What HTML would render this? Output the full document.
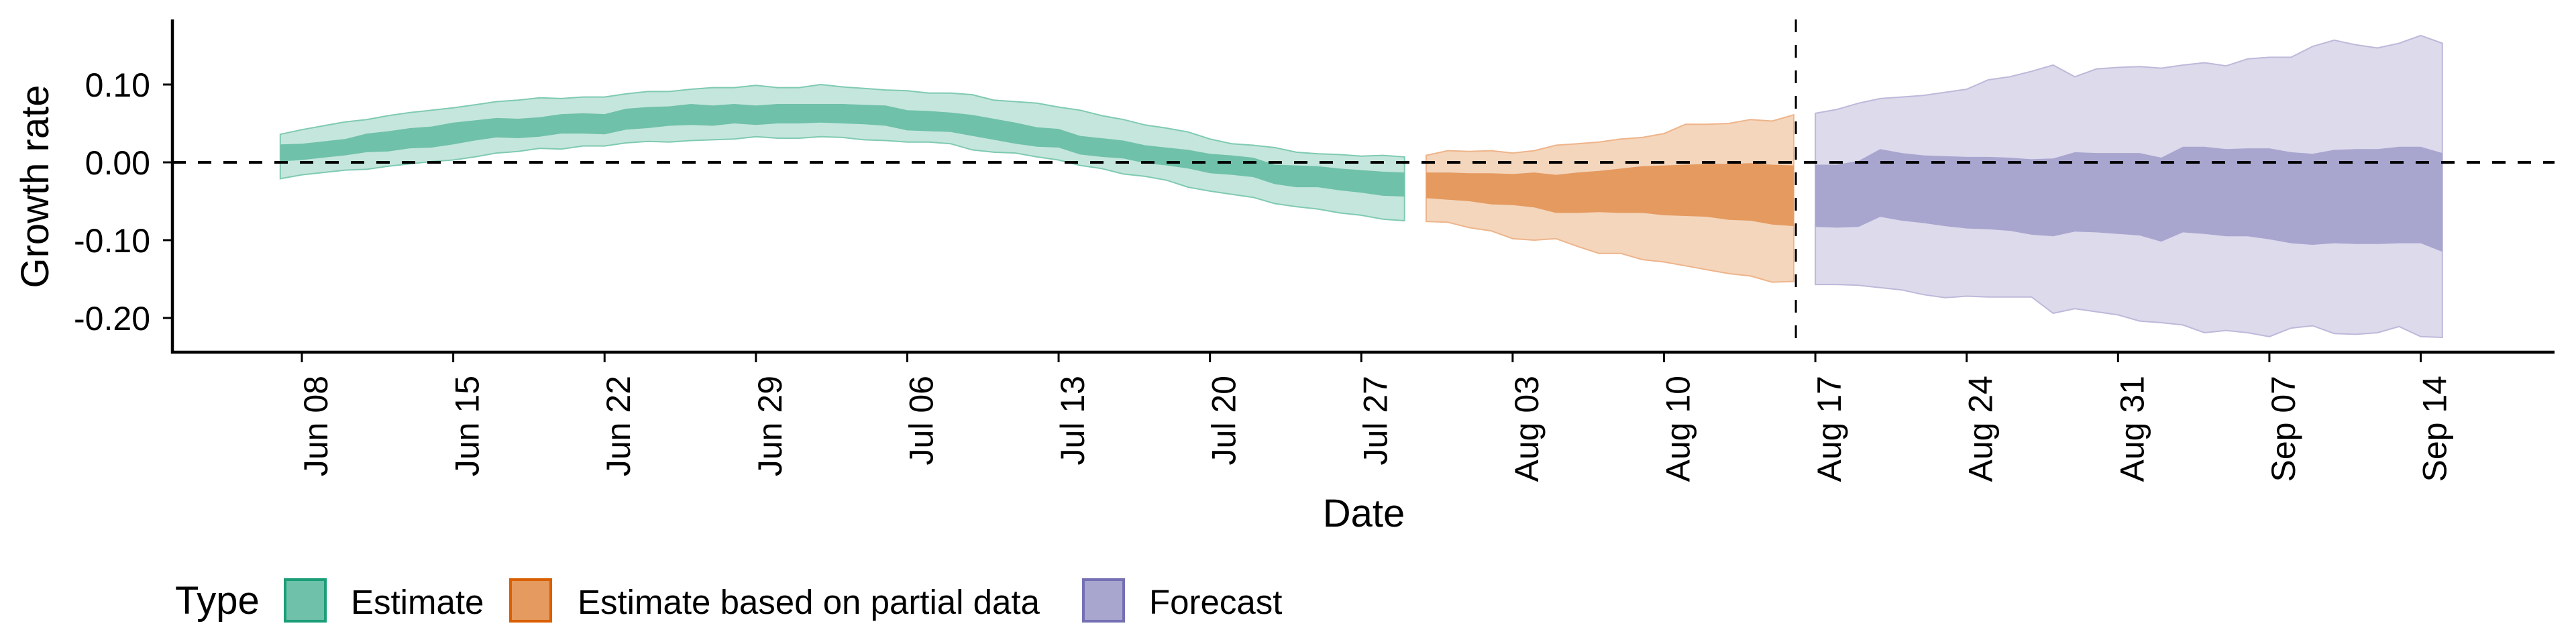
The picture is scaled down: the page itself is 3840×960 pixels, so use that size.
<!DOCTYPE html>
<html><head><meta charset="utf-8"><style>
html,body{margin:0;padding:0;background:#fff}
svg{display:block;font-family:"Liberation Sans",sans-serif}
</style></head><body>
<svg id="chart" width="3840" height="960" viewBox="0 0 3840 960" xmlns="http://www.w3.org/2000/svg">
<g id="bands"></g>
<g id="axes"></g>
<text x="0" y="0" transform="translate(72,278) rotate(-90)" text-anchor="middle" font-size="58">Growth rate</text>
<text x="2033" y="785" text-anchor="middle" font-size="58">Date</text>
<g>
<text x="261" y="915" font-size="58">Type</text>
<rect x="425" y="864" width="60" height="62" fill="#6fc1a9" stroke="#1b9e77" stroke-width="4"/>
<text x="523" y="915" font-size="51">Estimate</text>
<rect x="761" y="864" width="60" height="62" fill="#e59a60" stroke="#d95f02" stroke-width="4"/>
<text x="861" y="915" font-size="51">Estimate based on partial data</text>
<rect x="1615" y="864" width="60" height="62" fill="#a8a5cf" stroke="#7570b3" stroke-width="4"/>
<text x="1713" y="915" font-size="51">Forecast</text>
</g>
</svg>
<script>
// days counted from Jun 08
const tickLabels = ["Jun 08","Jun 15","Jun 22","Jun 29","Jul 06","Jul 13","Jul 20","Jul 27","Aug 03","Aug 10","Aug 17","Aug 24","Aug 31","Sep 07","Sep 14"];
const tickDays = [0,7,14,21,28,35,42,49,56,63,70,77,84,91,98];
const yTicks = [0.10,0.00,-0.10,-0.20];
const yTickLabels = ["0.10","0.00","-0.10","-0.20"];
const estStart = -1;
const estOuterHi = [0.036,0.042,0.047,0.052,0.055,0.060,0.064,0.067,0.070,0.074,0.078,0.080,0.083,0.082,0.084,0.084,0.088,0.091,0.091,0.094,0.096,0.096,0.099,0.096,0.096,0.100,0.097,0.095,0.093,0.092,0.089,0.089,0.087,0.080,0.078,0.076,0.071,0.067,0.060,0.055,0.048,0.044,0.039,0.030,0.024,0.022,0.019,0.013,0.011,0.010,0.008,0.009,0.007];
const estOuterLo = [-0.021,-0.016,-0.013,-0.010,-0.009,-0.005,-0.002,0.001,0.003,0.007,0.012,0.014,0.018,0.017,0.021,0.021,0.025,0.027,0.026,0.028,0.029,0.030,0.033,0.031,0.031,0.033,0.032,0.029,0.028,0.026,0.026,0.024,0.016,0.013,0.012,0.007,0.003,-0.004,-0.008,-0.015,-0.018,-0.023,-0.032,-0.037,-0.041,-0.045,-0.053,-0.057,-0.060,-0.065,-0.068,-0.073,-0.075];
const estInnerHi = [0.023,0.024,0.027,0.030,0.037,0.040,0.044,0.046,0.051,0.054,0.057,0.056,0.058,0.062,0.063,0.062,0.069,0.071,0.072,0.075,0.073,0.075,0.073,0.075,0.075,0.075,0.075,0.074,0.073,0.067,0.066,0.064,0.061,0.056,0.051,0.045,0.043,0.034,0.031,0.028,0.022,0.019,0.016,0.011,0.009,0.006,-0.003,-0.004,-0.005,-0.008,-0.010,-0.012,-0.013];
const estInnerLo = [0.001,0.003,0.006,0.009,0.013,0.014,0.018,0.019,0.023,0.028,0.032,0.031,0.033,0.037,0.037,0.036,0.042,0.044,0.047,0.048,0.047,0.050,0.048,0.050,0.050,0.051,0.050,0.049,0.047,0.041,0.040,0.039,0.034,0.029,0.024,0.020,0.019,0.010,0.007,0.005,-0.001,-0.004,-0.008,-0.014,-0.016,-0.019,-0.028,-0.032,-0.032,-0.036,-0.039,-0.043,-0.044];
const partStart = 52;
const partOuterHi = [0.009,0.015,0.014,0.015,0.012,0.015,0.022,0.024,0.026,0.030,0.032,0.037,0.049,0.049,0.050,0.055,0.053,0.061];
const partOuterLo = [-0.076,-0.077,-0.084,-0.088,-0.098,-0.100,-0.098,-0.108,-0.117,-0.117,-0.125,-0.128,-0.133,-0.138,-0.143,-0.146,-0.154,-0.153];
const partInnerHi = [-0.013,-0.013,-0.014,-0.014,-0.015,-0.013,-0.016,-0.013,-0.011,-0.008,-0.005,-0.004,-0.003,-0.002,-0.002,-0.001,-0.003,-0.004];
const partInnerLo = [-0.046,-0.048,-0.050,-0.054,-0.055,-0.058,-0.065,-0.065,-0.064,-0.065,-0.065,-0.068,-0.069,-0.070,-0.074,-0.075,-0.080,-0.082];
const fcStart = 70;
const fcOuterHi = [0.063,0.068,0.076,0.082,0.084,0.086,0.090,0.094,0.106,0.110,0.117,0.125,0.110,0.120,0.122,0.123,0.121,0.125,0.128,0.124,0.133,0.135,0.135,0.149,0.157,0.151,0.147,0.153,0.163,0.153];
const fcOuterLo = [-0.157,-0.157,-0.158,-0.161,-0.164,-0.170,-0.174,-0.172,-0.173,-0.173,-0.173,-0.194,-0.188,-0.192,-0.196,-0.204,-0.206,-0.209,-0.219,-0.216,-0.219,-0.224,-0.213,-0.210,-0.220,-0.221,-0.219,-0.211,-0.224,-0.225];
const fcInnerHi = [-0.003,-0.003,0.002,0.017,0.012,0.009,0.008,0.007,0.007,0.006,0.004,0.005,0.013,0.012,0.012,0.012,0.006,0.020,0.020,0.017,0.018,0.018,0.013,0.011,0.016,0.017,0.017,0.020,0.020,0.012];
const fcInnerLo = [-0.083,-0.084,-0.083,-0.070,-0.075,-0.078,-0.082,-0.085,-0.086,-0.088,-0.093,-0.095,-0.089,-0.090,-0.092,-0.094,-0.102,-0.090,-0.092,-0.095,-0.095,-0.099,-0.104,-0.106,-0.104,-0.105,-0.105,-0.104,-0.104,-0.115];
const cutoffDay = 69.1;

const NS="http://www.w3.org/2000/svg";
const X0=257, X1=3808, YTOP=29, YBOT=525;
function xS(d){return 450+32.23*d;}
function yS(v){return 242-1160*v;}
function mk(tag,attrs,parent){const e=document.createElementNS(NS,tag);for(const k in attrs)e.setAttribute(k,attrs[k]);parent.appendChild(e);return e;}
const bands=document.getElementById('bands'), axes=document.getElementById('axes');
function band(start,hi,lo,fill,stroke,name){
  const pts=[];
  hi.forEach((v,i)=>pts.push(xS(start+i).toFixed(1)+","+yS(v).toFixed(1)));
  for(let i=lo.length-1;i>=0;i--)pts.push(xS(start+i).toFixed(1)+","+yS(lo[i]).toFixed(1));
  const p=mk('polygon',{points:pts.join(' '),fill:fill,stroke:stroke,'stroke-width':stroke==='none'?0:2},bands);
  
  
}
band(estStart,estOuterHi,estOuterLo,'#c5e6dc','#7fcab2','estimate-outer-band');
band(estStart,estInnerHi,estInnerLo,'#6fc1a9','none','estimate-inner-band');
band(partStart,partOuterHi,partOuterLo,'#f4d6bc','#eeb48a','partial-outer-band');
band(partStart,partInnerHi,partInnerLo,'#e59a60','none','partial-inner-band');
band(fcStart,fcOuterHi,fcOuterLo,'#dcdaeb','#bdb9da','forecast-outer-band');
band(fcStart,fcInnerHi,fcInnerLo,'#a8a5cf','none','forecast-inner-band');

let l=mk('line',{x1:X0,x2:X1,y1:yS(0),y2:yS(0),stroke:'#000','stroke-width':4,'stroke-dasharray':'20 18'},axes);


l=mk('line',{x1:xS(cutoffDay),x2:xS(cutoffDay),y1:YTOP,y2:YBOT,stroke:'#000','stroke-width':3,'stroke-dasharray':'19 19'},axes);


l=mk('line',{x1:X0,x2:X0,y1:YTOP,y2:YBOT+2,stroke:'#000','stroke-width':4.5},axes);


l=mk('line',{x1:X0-2,x2:X1,y1:YBOT,y2:YBOT,stroke:'#000','stroke-width':4.5},axes);


yTicks.forEach((v,i)=>{
  const t=mk('line',{x1:X0-14,x2:X0,y1:yS(v),y2:yS(v),stroke:'#000','stroke-width':3},axes);
  
  
  const tx=mk('text',{x:224,y:yS(v)+18,'text-anchor':'end','font-size':50},axes);
  
  
  tx.textContent=yTickLabels[i];
});
tickDays.forEach((d,i)=>{
  const x=xS(d);
  const t=mk('line',{x1:x,x2:x,y1:YBOT,y2:YBOT+15,stroke:'#000','stroke-width':3},axes);
  
  
  const tx=mk('text',{x:0,y:0,transform:`translate(${x+38},560) rotate(-90)`,'text-anchor':'end','font-size':50},axes);
  
  
  tx.textContent=tickLabels[i];
});
</script>
</body></html>
